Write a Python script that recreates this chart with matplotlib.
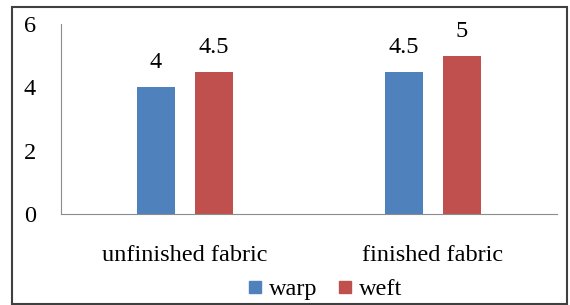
import numpy as np
from matplotlib import pyplot as plt
from matplotlib.patches import Rectangle
from matplotlib.lines import Line2D

# Data
categories = ['unfinished fabric', 'finished fabric']
warp = [4, 4.5]
weft = [4.5, 5]
warp_labels = ['4', '4.5']
weft_labels = ['4.5', '5']
yticks = [0, 2, 4, 6]

blue = '#4F81BD'
red = '#C0504D'

plt.rcParams['font.family'] = ['Liberation Serif', 'DejaVu Serif']
fs = 17.5

fig = plt.figure(figsize=(5.7, 3.05), dpi=100)
ax = fig.add_axes([61 / 570, 1 - 214 / 305, 496 / 570, 190 / 305])

x = np.arange(len(categories))
w = 0.15
off = 0.117
ax.bar(x - off, warp, w, color=blue, zorder=2)
ax.bar(x + off, weft, w, color=red, zorder=2)

# Value labels above bars
for xi, v, t in zip(x - off, warp, warp_labels):
    ax.annotate(t, (xi, v), xytext=(0, 10), textcoords='offset points',
                ha='center', va='bottom', fontsize=fs)
for xi, v, t in zip(x + off, weft, weft_labels):
    ax.annotate(t, (xi, v), xytext=(0, 10), textcoords='offset points',
                ha='center', va='bottom', fontsize=fs)

ax.set_xlim(-0.5, 1.5)
ax.set_ylim(0, 6)
ax.set_yticks(yticks)
ax.set_xticks(x)
ax.set_xticklabels(categories, fontsize=fs)
ax.tick_params(axis='y', length=0, pad=18, labelsize=fs)
ax.tick_params(axis='x', length=0, pad=22)
for s in ['top', 'right']:
    ax.spines[s].set_visible(False)
ax.spines['left'].set_color('#8c8c8c')
ax.spines['bottom'].set_color('#8c8c8c')

# Legend
handles = [Line2D([], [], marker='s', ls='', color=blue, markersize=8),
           Line2D([], [], marker='s', ls='', color=red, markersize=8)]
fig.legend(handles, ['warp', 'weft'], loc='center',
           bbox_to_anchor=(325 / 570, 1 - 289 / 305), ncol=2, frameon=False,
           prop={'family': 'Liberation Serif', 'size': fs},
           handlelength=0.6, handletextpad=0.3, columnspacing=0.8,
           borderpad=0)

# Outer border
fig.patches.append(Rectangle((12 / 570, 1 / 305), 555 / 570, 297 / 305,
                             transform=fig.transFigure, fill=False,
                             edgecolor='#404040', linewidth=1.5))

plt.savefig('out.png', dpi=100)
